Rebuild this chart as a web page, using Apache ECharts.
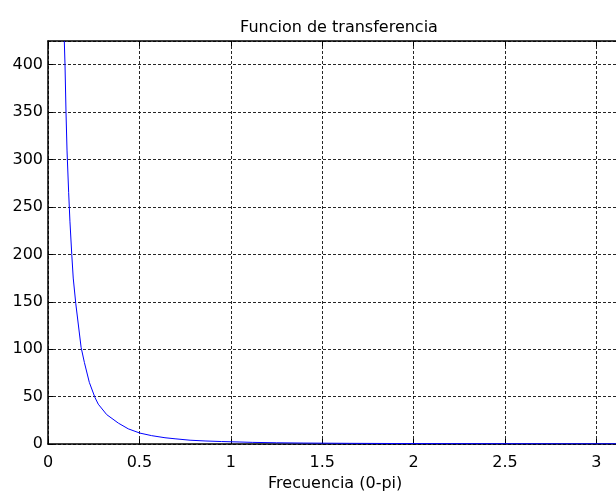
<!DOCTYPE html>
<html><head><meta charset="utf-8">
<script src="https://cdn.jsdelivr.net/npm/echarts@6/dist/echarts.min.js"></script>
<style>html,body{margin:0;padding:0;background:#fff}#c{width:616px;height:493px}</style>
</head><body><div id="c"></div>
<script>
const freq = [0.0892, 0.093, 0.0985, 0.104, 0.113, 0.120, 0.130, 0.138, 0.152, 0.181, 0.199, 0.226, 0.257, 0.275, 0.321, 0.385, 0.439, 0.503, 0.567, 0.640, 0.695, 0.777, 0.859, 0.95, 1.05, 1.12, 1.25, 1.4, 1.65, 1.9, 2.2, 2.5, 2.8, 3.1416];
const mag  = [425, 400, 350, 310, 265, 235, 200, 175, 148, 102, 86, 65, 49, 42, 31, 22, 16, 11.5, 8.8, 6.6, 5.5, 4.0, 3.2, 2.6, 2.1, 1.7, 1.3, 1.0, 0.7, 0.5, 0.4, 0.33, 0.28, 0.25];
const xTicks = [0, 0.5, 1, 1.5, 2, 2.5, 3];
const yTicks = [0, 50, 100, 150, 200, 250, 300, 350, 400];
const titleText = 'Funcion de transferencia';
const xName = 'Frecuencia (0-pi)';

const font = 'DejaVu Sans, Liberation Sans, sans-serif';
const chart = echarts.init(document.getElementById('c'), null, {renderer: 'canvas'});
const grid = {left: 48, top: 41, width: 574.3, height: 403, containLabel: false, outerBoundsMode: 'none'};
const gridLine = {show: true, lineStyle: {color: '#000', width: 1, type: [3, 2], opacity: 0.85}};
chart.setOption({
  animation: false,
  title: {text: titleText, left: 334, top: 15, textAlign: 'center',
    textStyle: {fontFamily: font, fontSize: 16, fontWeight: 'normal', color: '#000'}},
  grid: grid,
  xAxis: [{
    type: 'value', min: 0, max: Math.PI, interval: 0.5,
    name: xName, nameLocation: 'middle', nameGap: 32,
    nameTextStyle: {fontFamily: font, fontSize: 16, color: '#000'},
    axisLine: {show: true, onZero: false, lineStyle: {color: '#000', width: 1.5}},
    axisTick: {show: true, inside: true, length: 5, lineStyle: {color: '#000'}},
    axisLabel: {fontFamily: font, fontSize: 16, color: '#000', margin: 11, showMaxLabel: false,
      formatter: v => xTicks.includes(Math.round(v*10)/10) ? String(v) : ''},
    splitLine: gridLine
  }, {
    type: 'value', min: 0, max: Math.PI, interval: 0.5, position: 'top',
    axisLine: {show: true, onZero: false, lineStyle: {color: '#000', width: 1.5}},
    axisTick: {show: true, inside: true, length: 5, lineStyle: {color: '#000'}},
    axisLabel: {show: false}, splitLine: {show: false}
  }],
  yAxis: [{
    type: 'value', min: 0, max: 425, interval: 50,
    axisLine: {show: true, onZero: false, lineStyle: {color: '#000', width: 1.5}},
    axisTick: {show: true, inside: true, length: 5, lineStyle: {color: '#000'}},
    axisLabel: {fontFamily: font, fontSize: 16, color: '#000', margin: 5, showMaxLabel: false,
      formatter: v => yTicks.includes(v) ? String(v) : ''},
    splitLine: gridLine
  }],
  series: [{
    type: 'line', xAxisIndex: 0, yAxisIndex: 0,
    data: freq.map((f, i) => [f, mag[i]]),
    showSymbol: false, clip: true,
    lineStyle: {color: '#0000ff', width: 1}
  }]
});
</script></body></html>
